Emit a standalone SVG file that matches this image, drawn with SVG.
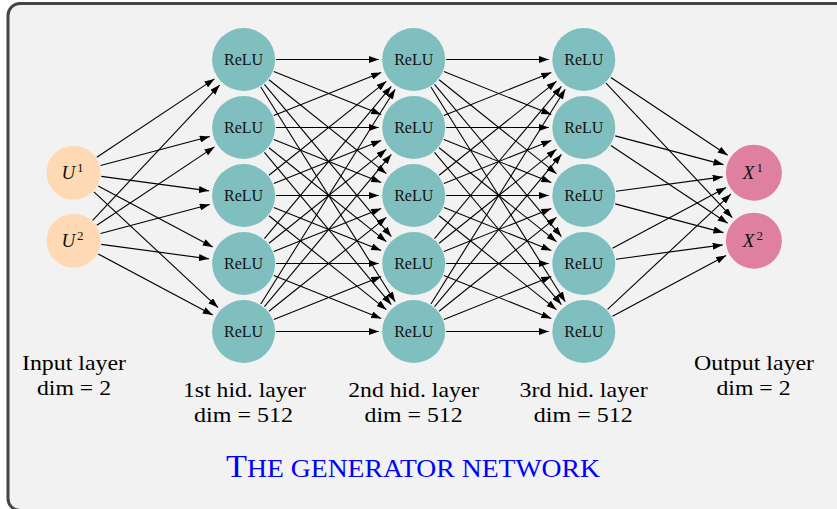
<svg xmlns="http://www.w3.org/2000/svg" width="837" height="509" viewBox="0 0 837 509">
<defs>
<marker id="ah" markerUnits="userSpaceOnUse" markerWidth="10" markerHeight="7" refX="10" refY="3.5" orient="auto">
<path d="M0,0 L10,3.5 L0,7 Z" fill="#000"/>
</marker>
<style>
.frame{fill:#f2f2f2;stroke:#454545;stroke-width:3}
.in{fill:#ffd9b3}
.hid{fill:#80bfbf}
.out{fill:#e080a0}
.nt{font-family:"Liberation Serif","Times New Roman",serif;font-size:16px;fill:#111;text-anchor:middle}
.mt{font-family:"Liberation Serif","Times New Roman",serif;font-size:19px;font-style:italic;fill:#111;text-anchor:middle}
.lb{font-family:"Liberation Serif","Times New Roman",serif;font-size:22px;fill:#000;text-anchor:middle}
.ti{font-family:"Liberation Serif","Times New Roman",serif;fill:#0000ff;text-anchor:middle}
#edges path{stroke:#000;stroke-width:1.1;fill:none;marker-end:url(#ah)}
</style>
</defs>
<rect class="frame" x="8" y="3.5" width="850" height="507" rx="12"/>
<g id="edges">
<!-- input -> L1 -->
<path d="M96.81,157.19 L214.46,78.89"/>
<path d="M100.56,165.51 L209.77,136.49"/>
<path d="M101.25,176.42 L208.91,190.85"/>
<path d="M98.2,185.89 L212.72,247.02"/>
<path d="M93.97,191.81 L218.02,307.62"/>
<path d="M92.66,220.29 L219.65,85.02"/>
<path d="M96.81,225.19 L214.46,146.89"/>
<path d="M100.56,233.51 L209.77,204.49"/>
<path d="M101.25,244.42 L208.91,258.85"/>
<path d="M98.2,253.89 L212.72,315.02"/>
<!-- L1 -> L2 -->
<path d="M276.1,59.5 L378.7,59.5"/>
<path d="M273.78,71.56 L381.2,114.51"/>
<path d="M268.98,79.79 L386.36,173.64"/>
<path d="M264.41,84.46 L391.29,236.62"/>
<path d="M260.83,87.06 L395.14,301.82"/>
<path d="M273.78,115.44 L381.2,72.49"/>
<path d="M276.1,127.5 L378.7,127.5"/>
<path d="M273.78,139.56 L381.2,182.51"/>
<path d="M268.98,147.79 L386.36,241.64"/>
<path d="M264.41,152.46 L391.29,304.62"/>
<path d="M268.98,175.21 L386.36,81.36"/>
<path d="M273.78,183.44 L381.2,140.49"/>
<path d="M276.1,195.5 L378.7,195.5"/>
<path d="M273.78,207.56 L381.2,250.51"/>
<path d="M268.98,215.79 L386.36,309.64"/>
<path d="M264.41,238.54 L391.29,86.38"/>
<path d="M268.98,243.21 L386.36,149.36"/>
<path d="M273.78,251.44 L381.2,208.49"/>
<path d="M276.1,263.5 L378.7,263.5"/>
<path d="M273.78,275.56 L381.2,318.51"/>
<path d="M260.83,303.94 L395.14,89.18"/>
<path d="M264.41,306.54 L391.29,154.38"/>
<path d="M268.98,311.21 L386.36,217.36"/>
<path d="M273.78,319.44 L381.2,276.49"/>
<path d="M276.1,331.5 L378.7,331.5"/>
<!-- L2 -> L3 -->
<path d="M446.2,59.5 L548.8,59.5"/>
<path d="M443.88,71.56 L551.3,114.51"/>
<path d="M439.08,79.79 L556.46,173.64"/>
<path d="M434.51,84.46 L561.39,236.62"/>
<path d="M430.93,87.06 L565.24,301.82"/>
<path d="M443.88,115.44 L551.3,72.49"/>
<path d="M446.2,127.5 L548.8,127.5"/>
<path d="M443.88,139.56 L551.3,182.51"/>
<path d="M439.08,147.79 L556.46,241.64"/>
<path d="M434.51,152.46 L561.39,304.62"/>
<path d="M439.08,175.21 L556.46,81.36"/>
<path d="M443.88,183.44 L551.3,140.49"/>
<path d="M446.2,195.5 L548.8,195.5"/>
<path d="M443.88,207.56 L551.3,250.51"/>
<path d="M439.08,215.79 L556.46,309.64"/>
<path d="M434.51,238.54 L561.39,86.38"/>
<path d="M439.08,243.21 L556.46,149.36"/>
<path d="M443.88,251.44 L551.3,208.49"/>
<path d="M446.2,263.5 L548.8,263.5"/>
<path d="M443.88,275.56 L551.3,318.51"/>
<path d="M430.93,303.94 L565.24,89.18"/>
<path d="M434.51,306.54 L561.39,154.38"/>
<path d="M439.08,311.21 L556.46,217.36"/>
<path d="M443.88,319.44 L551.3,276.49"/>
<path d="M446.2,331.5 L548.8,331.5"/>
<!-- L3 -> output -->
<path d="M610.86,77.51 L727.68,155.25"/>
<path d="M615.21,135.85 L723.46,164.61"/>
<path d="M616.01,191.18 L722.68,176.88"/>
<path d="M612.47,248.2 L726.11,187.53"/>
<path d="M607.56,309.32 L730.87,194.2"/>
<path d="M606.04,83.2 L732.34,217.73"/>
<path d="M610.86,145.51 L727.68,223.25"/>
<path d="M615.21,203.85 L723.46,232.61"/>
<path d="M616.01,259.18 L722.68,244.88"/>
<path d="M612.47,316.2 L726.11,255.53"/>
</g>
<g id="in1"><circle class="in" cx="73.5" cy="172.7" r="27"/><text class="mt" x="72.5" y="179">U<tspan font-size="13" font-style="normal" dy="-7" dx="2">1</tspan></text></g>
<g id="in2"><circle class="in" cx="73.5" cy="240.7" r="27"/><text class="mt" x="72.5" y="247">U<tspan font-size="13" font-style="normal" dy="-7" dx="2">2</tspan></text></g>
<g id="h1_1"><circle class="hid" cx="243.6" cy="59.5" r="31.5"/><text class="nt" x="243.6" y="65">ReLU</text></g>
<g id="h1_2"><circle class="hid" cx="243.6" cy="127.5" r="31.5"/><text class="nt" x="243.6" y="133">ReLU</text></g>
<g id="h1_3"><circle class="hid" cx="243.6" cy="195.5" r="31.5"/><text class="nt" x="243.6" y="201">ReLU</text></g>
<g id="h1_4"><circle class="hid" cx="243.6" cy="263.5" r="31.5"/><text class="nt" x="243.6" y="269">ReLU</text></g>
<g id="h1_5"><circle class="hid" cx="243.6" cy="331.5" r="31.5"/><text class="nt" x="243.6" y="337">ReLU</text></g>
<g id="h2_1"><circle class="hid" cx="413.7" cy="59.5" r="31.5"/><text class="nt" x="413.7" y="65">ReLU</text></g>
<g id="h2_2"><circle class="hid" cx="413.7" cy="127.5" r="31.5"/><text class="nt" x="413.7" y="133">ReLU</text></g>
<g id="h2_3"><circle class="hid" cx="413.7" cy="195.5" r="31.5"/><text class="nt" x="413.7" y="201">ReLU</text></g>
<g id="h2_4"><circle class="hid" cx="413.7" cy="263.5" r="31.5"/><text class="nt" x="413.7" y="269">ReLU</text></g>
<g id="h2_5"><circle class="hid" cx="413.7" cy="331.5" r="31.5"/><text class="nt" x="413.7" y="337">ReLU</text></g>
<g id="h3_1"><circle class="hid" cx="583.8" cy="59.5" r="31.5"/><text class="nt" x="583.8" y="65">ReLU</text></g>
<g id="h3_2"><circle class="hid" cx="583.8" cy="127.5" r="31.5"/><text class="nt" x="583.8" y="133">ReLU</text></g>
<g id="h3_3"><circle class="hid" cx="583.8" cy="195.5" r="31.5"/><text class="nt" x="583.8" y="201">ReLU</text></g>
<g id="h3_4"><circle class="hid" cx="583.8" cy="263.5" r="31.5"/><text class="nt" x="583.8" y="269">ReLU</text></g>
<g id="h3_5"><circle class="hid" cx="583.8" cy="331.5" r="31.5"/><text class="nt" x="583.8" y="337">ReLU</text></g>
<g id="out1"><circle class="out" cx="753.9" cy="172.7" r="28"/><text class="mt" x="752.9" y="179">X<tspan font-size="13" font-style="normal" dy="-7" dx="2">1</tspan></text></g>
<g id="out2"><circle class="out" cx="753.9" cy="240.7" r="28"/><text class="mt" x="752.9" y="247">X<tspan font-size="13" font-style="normal" dy="-7" dx="2">2</tspan></text></g>
<g id="labels">
<text class="lb" x="74" y="370" textLength="104" lengthAdjust="spacingAndGlyphs">Input layer</text>
<text class="lb" x="74" y="395" textLength="74" lengthAdjust="spacingAndGlyphs">dim = 2</text>
<text class="lb" x="244.5" y="396.5" textLength="123" lengthAdjust="spacingAndGlyphs">1st hid. layer</text>
<text class="lb" x="243.5" y="421.5" textLength="99" lengthAdjust="spacingAndGlyphs">dim = 512</text>
<text class="lb" x="413.7" y="396.5" textLength="131" lengthAdjust="spacingAndGlyphs">2nd hid. layer</text>
<text class="lb" x="413.6" y="421.5" textLength="98" lengthAdjust="spacingAndGlyphs">dim = 512</text>
<text class="lb" x="583.6" y="396.5" textLength="128" lengthAdjust="spacingAndGlyphs">3rd hid. layer</text>
<text class="lb" x="583.3" y="421.5" textLength="99" lengthAdjust="spacingAndGlyphs">dim = 512</text>
<text class="lb" x="754" y="370" textLength="120" lengthAdjust="spacingAndGlyphs">Output layer</text>
<text class="lb" x="753.5" y="395" textLength="74" lengthAdjust="spacingAndGlyphs">dim = 2</text>
<text class="ti" x="413" y="477" textLength="374" lengthAdjust="spacingAndGlyphs"><tspan font-size="31">T</tspan><tspan font-size="25">HE GENERATOR NETWORK</tspan></text>
</g>
</svg>
